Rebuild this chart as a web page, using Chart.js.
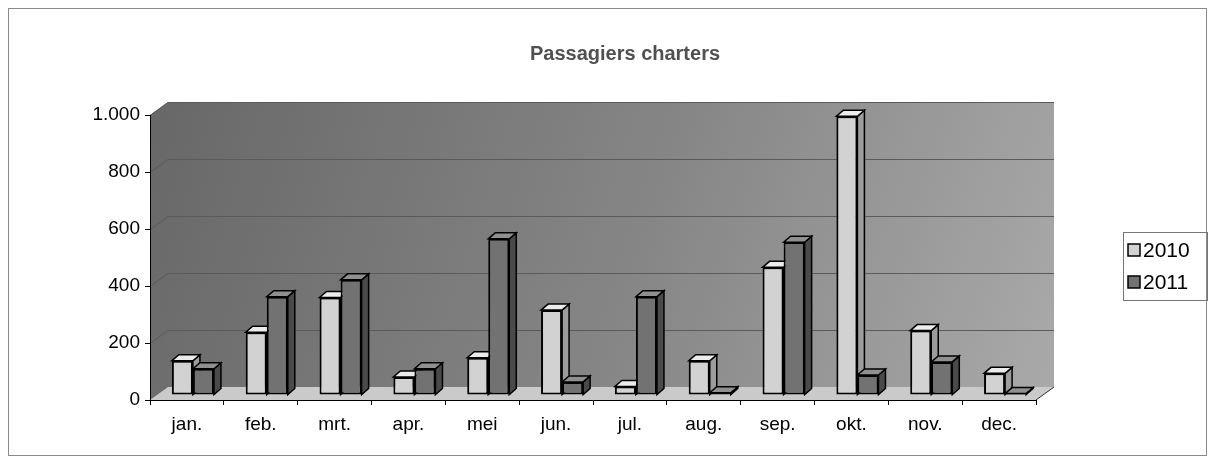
<!DOCTYPE html>
<html>
<head>
<meta charset="utf-8">
<script src="https://cdn.jsdelivr.net/npm/chart.js@4"></script>
<style>
  html, body { margin: 0; padding: 0; background: #fff; }
  canvas { display: block; }
</style>
</head>
<body>
<canvas id="chart1" width="1214" height="464"></canvas>
<script>
// data
const months = ["jan.", "feb.", "mrt.", "apr.", "mei", "jun.", "jul.", "aug.", "sep.", "okt.", "nov.", "dec."];
const passengers2010 = [120, 220, 342, 63, 131, 298, 30, 120, 448, 978, 226, 76];
const passengers2011 = [92, 345, 404, 92, 548, 46, 345, 8, 536, 70, 116, 5];
const yTicks = [0, 200, 400, 600, 800, 1000];
const seriesNames = ["2010", "2011"];
const chartTitle = "Passagiers charters";

const DEPTH_X = 18, DEPTH_Y = -13;   // back wall offset
const BAR_DX = 7, BAR_DY = -6;       // bar depth
const ROW_X = 6, ROW_Y = -5;         // bars stand midway on the floor
const faces = [
  { front: "#d2d2d2", side: "#9c9c9c", top: "#ececec" },
  { front: "#727272", side: "#4a4a4a", top: "#909090" }
];

function fmt(v) {
  return String(v).replace(/\B(?=(\d{3})+(?!\d))/g, ".");
}

function poly(ctx, pts, fill, stroke, lw) {
  ctx.beginPath();
  ctx.moveTo(pts[0][0], pts[0][1]);
  for (let i = 1; i < pts.length; i++) ctx.lineTo(pts[i][0], pts[i][1]);
  ctx.closePath();
  if (fill) { ctx.fillStyle = fill; ctx.fill(); }
  if (stroke) { ctx.strokeStyle = stroke; ctx.lineWidth = lw || 1; ctx.stroke(); }
}

const excel3d = {
  id: "excel3d",
  beforeDraw(chart) {
    const ctx = chart.ctx, a = chart.chartArea, y = chart.scales.y;
    ctx.save();
    // outer frame
    ctx.strokeStyle = "#8a8a8a";
    ctx.lineWidth = 1;
    ctx.strokeRect(8.5, 8.5, 1198, 447);
    // back wall + side wall
    const g = ctx.createLinearGradient(a.left, a.top, a.right, a.bottom);
    g.addColorStop(0, "#686868");
    g.addColorStop(0.55, "#868686");
    g.addColorStop(1, "#a8a8a8");
    poly(ctx, [
      [a.left, a.bottom], [a.left, a.top],
      [a.left + DEPTH_X, a.top + DEPTH_Y], [a.right + DEPTH_X, a.top + DEPTH_Y],
      [a.right + DEPTH_X, a.bottom + DEPTH_Y], [a.right, a.bottom]
    ], g);
    // gridlines on the wall
    ctx.strokeStyle = "#5a5a5a";
    ctx.lineWidth = 1;
    yTicks.forEach(v => {
      if (v === 0) return;
      const py = Math.round(y.getPixelForValue(v)) + 0.5;
      ctx.beginPath();
      ctx.moveTo(a.left, py);
      ctx.lineTo(a.left + DEPTH_X, py + DEPTH_Y);
      ctx.lineTo(a.right + DEPTH_X, py + DEPTH_Y);
      ctx.stroke();
    });
    // floor
    poly(ctx, [
      [a.left, a.bottom], [a.right, a.bottom],
      [a.right + DEPTH_X, a.bottom + DEPTH_Y], [a.left + DEPTH_X, a.bottom + DEPTH_Y]
    ], "#cacaca");
    ctx.beginPath();
    ctx.strokeStyle = "#333";
    ctx.moveTo(a.right, a.bottom);
    ctx.lineTo(a.right + DEPTH_X, a.bottom + DEPTH_Y);
    ctx.stroke();
    ctx.restore();
  },
  beforeDatasetsDraw(chart) {
    const ctx = chart.ctx;
    ctx.save();
    ctx.translate(ROW_X, ROW_Y);
    const metas = chart.data.datasets.map((d, i) => chart.getDatasetMeta(i));
    months.forEach((m, idx) => {
      metas.forEach((meta, si) => {
        const el = meta.data[idx];
        const l = el.x - el.width / 2, r = el.x + el.width / 2;
        const t = el.y, b = el.base;
        const f = faces[si];
        poly(ctx, [[r, b], [r, t], [r + BAR_DX, t + BAR_DY], [r + BAR_DX, b + BAR_DY]], f.side, "#000", 1.5);
        poly(ctx, [[l, t], [r, t], [r + BAR_DX, t + BAR_DY], [l + BAR_DX, t + BAR_DY]], f.top, "#000", 1.5);
      });
    });
    // front faces are drawn by Chart.js inside this translation
  },
  afterDatasetsDraw(chart) {
    chart.ctx.restore();
  },
  afterDraw(chart) {
    const ctx = chart.ctx;
    ctx.save();
    // title
    ctx.fillStyle = "#505050";
    ctx.font = "bold 20px 'Liberation Sans', Arial";
    ctx.textAlign = "center";
    ctx.textBaseline = "middle";
    ctx.fillText(chartTitle, 625, 54);
    // legend
    ctx.strokeStyle = "#777";
    ctx.lineWidth = 1;
    ctx.strokeRect(1123.5, 232.5, 84, 68);
    ctx.font = "21px 'Liberation Sans', Arial";
    ctx.textAlign = "left";
    chart.data.datasets.forEach((ds, i) => {
      const cy = 250 + i * 32;
      ctx.fillStyle = ds.backgroundColor;
      ctx.fillRect(1128, cy - 6, 12, 12);
      ctx.strokeStyle = "#000";
      ctx.lineWidth = 1.5;
      ctx.strokeRect(1128, cy - 6, 12, 12);
      ctx.fillStyle = "#000";
      ctx.fillText(ds.label, 1143, cy + 1);
    });
    ctx.restore();
  }
};

const tickFont = { family: "'Liberation Sans', Arial", size: 19 };

const chart1 = document.getElementById("chart1");
const stat1 = new Chart(chart1, {
  type: "bar",
  data: {
    labels: months,
    datasets: [{
      label: seriesNames[0],
      data: passengers2010,
      backgroundColor: faces[0].front,
      borderColor: "#000000",
      borderWidth: 2,
      borderSkipped: false
    }, {
      label: seriesNames[1],
      data: passengers2011,
      backgroundColor: faces[1].front,
      borderColor: "#000000",
      borderWidth: 2,
      borderSkipped: false
    }]
  },
  options: {
    responsive: false,
    devicePixelRatio: 1,
    animation: false,
    layout: { padding: { left: 0, right: 178, top: 115, bottom: 24 } },
    datasets: { bar: { categoryPercentage: 0.57, barPercentage: 1 } },
    plugins: {
      legend: { display: false },
      title: { display: false },
      tooltip: { enabled: false }
    },
    scales: {
      x: {
        afterFit: s => { s.height = 40; },
        grid: { drawOnChartArea: false, tickLength: 5, color: "#000" },
        border: { color: "#000", width: 1 },
        ticks: { color: "#000", font: tickFont, padding: 8, maxRotation: 0 }
      },
      y: {
        min: 0,
        max: 1000,
        afterFit: s => { s.width = 150; },
        afterBuildTicks: s => { s.ticks = yTicks.map(v => ({ value: v })); },
        grid: { drawOnChartArea: false, tickLength: 5, color: "#000" },
        border: { color: "#000", width: 1 },
        ticks: { color: "#000", font: tickFont, padding: 5, callback: v => fmt(v) }
      }
    }
  },
  plugins: [excel3d]
});
</script>
</body>
</html>
